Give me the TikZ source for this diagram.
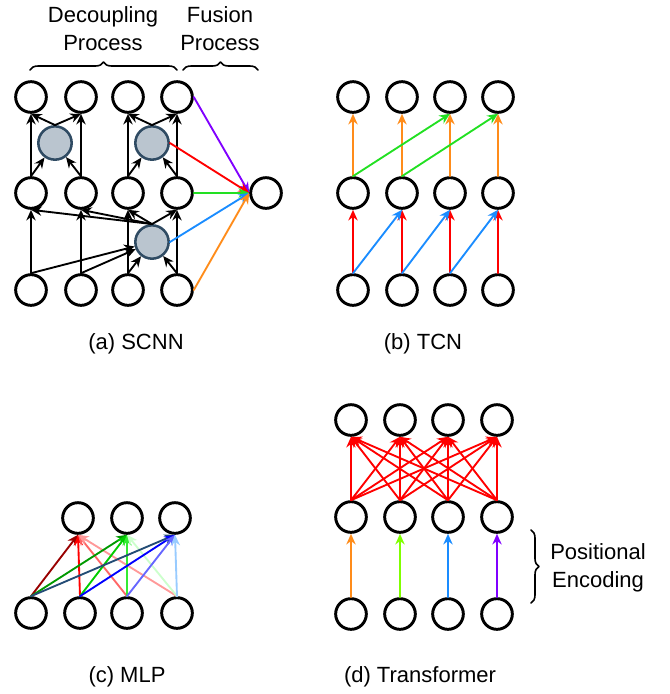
\documentclass[tikz,border=0pt]{standalone}
\usepackage{fontspec}
\setmainfont{Liberation Sans}
\usetikzlibrary{arrows.meta,decorations.pathreplacing}
\definecolor{gfill}{HTML}{BAC5CF}
\definecolor{gedge}{HTML}{2F4B63}
\definecolor{cpurple}{HTML}{8000FF}
\definecolor{cgreen}{HTML}{22E022}
\definecolor{cblue}{HTML}{1A8CFF}
\definecolor{corange}{HTML}{FF8C1A}
\definecolor{clime}{HTML}{80FF00}
\begin{document}
\begin{tikzpicture}[x=0.75pt,y=-0.75pt,line join=round,line cap=round,
	font=\fontsize{16.5}{21}\selectfont,
	neuron/.style={circle,draw,line width=2.2pt,minimum size=23pt,inner sep=0pt},
	gnode/.style={circle,draw=gedge,fill=gfill,line width=1.9pt,minimum size=25pt,inner sep=0pt},
	link/.style={line width=1.4pt,-{Stealth[length=8pt,width=7pt]}},
	brc/.style={decorate,decoration={brace,amplitude=6pt},line width=1.2pt}]
	\useasboundingbox (0,0) rectangle (670,694);
	% (a) SCNN
	\foreach \i/\x in {1/31,2/81,3/128,4/177}{
		\node[neuron] (at\i) at (\x,97) {};
		\node[neuron] (am\i) at (\x,193) {};
		\node[neuron] (ab\i) at (\x,290) {};
	}
	\node[gnode] (ag1) at (55,143) {};
	\node[gnode] (ag2) at (152,143) {};
	\node[gnode] (ag3) at (152,242) {};
	\node[neuron] (aout) at (266,193) {};
	\foreach \i in {1,...,4}{
		\draw[link] (ab\i.north) -- (am\i.south);
		\draw[link] (am\i.north) -- (at\i.south);
		\draw[link] (ab\i.north) -- (ag3);
		\draw[link] (ag3.north) -- (am\i.south);
	}
	\foreach \i/\g in {1/1,2/1,3/2,4/2}{
		\draw[link] (am\i.north) -- (ag\g);
		\draw[link] (ag\g.north) -- (at\i.south);
	}
	\foreach \s/\c in {at4/cpurple,ag2/red,am4/cgreen,ag3/cblue,ab4/corange}
	\draw[link,\c] (\s.east) -- (aout.west);
	\draw[brc] (30,70) -- (177,70);
	\draw[brc] (183,70) -- (258,70);
	\node[align=center] (dec) at (103,29) {Decoupling\\Process};
	\node[align=center] (fus) at (220,29) {Fusion\\Process};
	\node (capa) at (136,344) {(a) SCNN};
	% (b) TCN
	\foreach \i/\x in {1/353,2/402,3/450,4/498}{
		\node[neuron] (bt\i) at (\x,97) {};
		\node[neuron] (bm\i) at (\x,193) {};
		\node[neuron] (bb\i) at (\x,290) {};
		\draw[link,red] (bb\i.north) -- (bm\i.south);
		\draw[link,corange] (bm\i.north) -- (bt\i.south);
	}
	\foreach \s/\t in {1/2,2/3,3/4}
	\draw[link,cblue] (bb\s.north) -- (bm\t.south);
	\foreach \s/\t in {1/3,2/4}
	\draw[link,cgreen] (bm\s.north) -- (bt\t.south);
	\node (capb) at (423,344) {(b) TCN};
	% (c) MLP
	\foreach \i/\x in {1/78,2/127,3/175}
	\node[neuron] (ct\i) at (\x,518) {};
	\foreach \i/\x in {1/31,2/80,3/127,4/177}
	\node[neuron] (cb\i) at (\x,613) {};
	\foreach \s/\t/\c in {1/1/{red!60!black},2/1/red,3/1/{red!60},4/1/{red!40},
		1/2/{green!60!black},2/2/{green!80!black},3/2/{green!90!black!80},4/2/{green!20},
		1/3/{cblue!40!black!90},2/3/blue,3/3/{blue!60},4/3/{cblue!45}}
	\draw[link,\c] (cb\s.north) -- (ct\t.south);
	\node (capc) at (127,677) {(c) MLP};
	% (d) Transformer
	\foreach \i/\x in {1/351,2/400,3/448,4/497}{
		\node[neuron] (dt\i) at (\x,420) {};
		\node[neuron] (dm\i) at (\x,517) {};
		\node[neuron] (db\i) at (\x,614) {};
	}
	\foreach \s in {1,...,4}
	\foreach \t in {1,...,4}
	\draw[link,red] (dm\s.north) -- (dt\t.south);
	\foreach \i/\c in {1/corange,2/clime,3/cblue,4/cpurple}
	\draw[link,\c] (db\i.north) -- (dm\i.south);
	\draw[brc] (531,530) -- (531,603);
	\node[align=center] (pe) at (598,568) {Positional\\Encoding};
	\node (capd) at (420,677) {(d) Transformer};
\end{tikzpicture}
\end{document}
